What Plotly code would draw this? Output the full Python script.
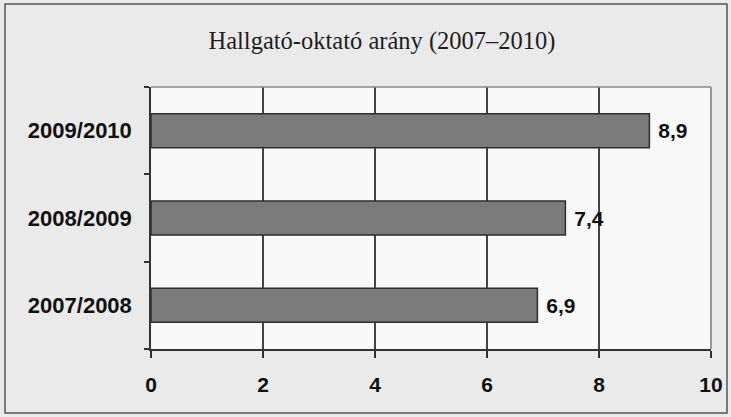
import plotly.graph_objects as go

categories = ["2007/2008", "2008/2009", "2009/2010"]
values = [6.9, 7.4, 8.9]
x_ticks = [0, 2, 4, 6, 8, 10]
title_text = "Hallgató-oktató arány (2007–2010)"

W, H = 731, 417
L, R, T, B = 151, 20, 87, 68
pw, ph = W - L - R, H - T - B

def px_x(p):
    return (p - L) / pw

def px_y(p):
    return (H - B - p) / ph

fig = go.Figure()
fig.add_trace(go.Bar(
    y=categories, x=values, orientation="h",
    marker=dict(color="#7b7b7b", line=dict(color="#2e2e2e", width=1.5)),
    width=0.39,
    texttemplate=" %{x:.1f}", textposition="outside",
    textfont=dict(family="Liberation Sans", size=21, color="#111111", weight="bold"),
    cliponaxis=False,
))

fig.update_layout(
    width=W, height=H,
    margin=dict(l=L, r=R, t=T, b=B, pad=0, autoexpand=False),
    paper_bgcolor="#eaeaea",
    plot_bgcolor="#f9f9f9",
    separators=",.",
    showlegend=False,
    title=dict(text=title_text, x=382 / W, y=1 - 40 / H, xanchor="center", yanchor="middle",
               font=dict(family="Liberation Serif", size=24.5, color="#1e1e1e")),
    xaxis=dict(range=[0, 10], tickvals=x_ticks, ticktext=[str(v) for v in x_ticks],
               showgrid=True, gridcolor="#444444", gridwidth=1.5,
               showline=True, linecolor="#333333", linewidth=1.5,
               ticks="outside", ticklen=7, tickwidth=1.5, tickcolor="#333333",
               tickfont=dict(family="Liberation Sans", size=21, color="#111111", weight="bold"),
               ticklabelstandoff=9, zeroline=False, fixedrange=True),
    yaxis=dict(categoryorder="array", categoryarray=categories,
               showgrid=False, showline=True, linecolor="#333333", linewidth=1.5,
               ticks="outside", ticklen=5, tickwidth=1.5, tickcolor="#333333",
               tickson="boundaries",
               tickfont=dict(family="Liberation Sans", size=22, color="#111111", weight="bold"),
               ticklabelstandoff=13, fixedrange=True),
    shapes=[
        dict(type="line", xref="paper", yref="paper", x0=0, x1=1, y0=1, y1=1,
             line=dict(color="#888888", width=1.5), layer="above"),
        dict(type="line", xref="paper", yref="paper", x0=1, x1=1, y0=0, y1=1,
             line=dict(color="#999999", width=2), layer="above"),
        dict(type="rect", xref="paper", yref="paper",
             x0=px_x(5), x1=px_x(727), y0=px_y(413), y1=px_y(4),
             line=dict(color="#555555", width=1.5), layer="below"),
    ],
)

fig.write_html("out.html", config={"displayModeBar": False},
               post_script="document.body.style.margin='0px';document.body.style.background='#f2f2f2';")
